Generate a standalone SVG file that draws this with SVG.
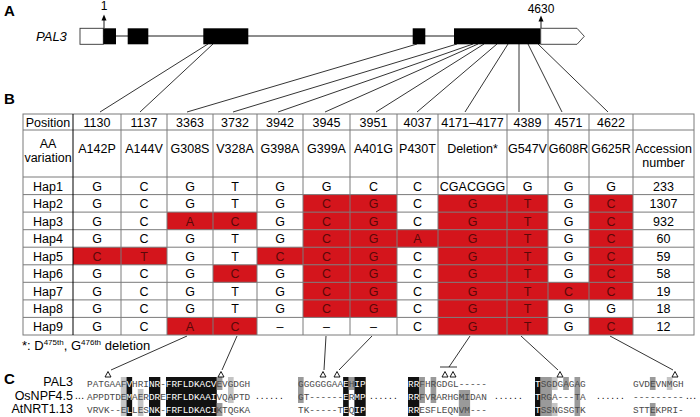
<svg xmlns="http://www.w3.org/2000/svg" width="700" height="417" viewBox="0 0 700 417">
<defs>
<style>
.lbl{font-family:"Liberation Sans",Arial,sans-serif;font-size:15px;font-weight:bold;fill:#000}
.t{font-family:"Liberation Sans",Arial,sans-serif;font-size:12.5px;fill:#000;text-anchor:middle}
.r{font-family:"Liberation Sans",Arial,sans-serif;font-size:12.5px;fill:#5a0808;text-anchor:middle}
.red{fill:#d4151c}
.grid{stroke:#7a7a7a;stroke-width:1;fill:none}
.con line,.con path{stroke:#000;stroke-width:0.8;fill:none}
.aln{font-family:"Liberation Mono","Courier New",monospace;font-size:9.4px;fill:#4a4a4a}
.w{fill:#fff}
.dots{font-family:"Liberation Sans",Arial,sans-serif;font-size:10px;letter-spacing:2px;fill:#000}
.sp{font-family:"Liberation Sans",Arial,sans-serif;font-size:12.5px;fill:#000;text-anchor:end}
.tri{fill:#fff;stroke:#000;stroke-width:0.9}
.bk{fill:#111}
.gy{fill:#9a9a9a}
.lg{fill:#c4c4c4}
</style>
</defs>
<rect width="700" height="417" fill="#fff"/>

<!-- Panel A -->
<text class="lbl" x="4" y="16">A</text>
<g id="gene">
<text x="36" y="41" font-family="Liberation Sans,Arial,sans-serif" font-size="13" font-style="italic">PAL3</text>
<line x1="103" y1="36" x2="454" y2="36" stroke="#000" stroke-width="0.9"/>
<rect x="80" y="28.3" width="23.3" height="16" fill="#fff" stroke="#333" stroke-width="0.9"/>
<rect x="103.3" y="28.3" width="12.7" height="16" fill="#000"/>
<rect x="127.7" y="28.3" width="20.6" height="16" fill="#000"/>
<rect x="203.3" y="28.3" width="45" height="16" fill="#000"/>
<rect x="412.7" y="28.3" width="12.6" height="16" fill="#000"/>
<rect x="454" y="28.3" width="86.7" height="16" fill="#000"/>
<path d="M540.7,28.3 L577,28.3 L584.3,36.3 L577,44.3 L540.7,44.3 Z" fill="#fff" stroke="#333" stroke-width="0.9"/>
<line x1="104" y1="28" x2="104" y2="19" stroke="#000" stroke-width="0.9"/>
<path d="M101.5,20.5 L104,14.5 L106.5,20.5 Z" fill="#000"/>
<line x1="541" y1="28" x2="541" y2="20" stroke="#000" stroke-width="0.9"/>
<path d="M538.5,21.5 L541,15.5 L543.5,21.5 Z" fill="#000"/>
<text x="104" y="10" font-family="Liberation Sans,Arial,sans-serif" font-size="12" text-anchor="middle">1</text>
<text x="541" y="13" font-family="Liberation Sans,Arial,sans-serif" font-size="12" text-anchor="middle">4630</text>
</g>

<!-- Connectors -->
<g id="connectors" class="con">
<line x1="208" y1="44" x2="100" y2="112"/>
<line x1="213" y1="44" x2="140" y2="112"/>
<line x1="417" y1="44" x2="187" y2="112"/>
<line x1="457" y1="44" x2="233" y2="112"/>
<line x1="473" y1="44" x2="278" y2="112"/>
<line x1="478" y1="44" x2="325" y2="112"/>
<line x1="484" y1="44" x2="376" y2="112"/>
<line x1="497" y1="44" x2="417" y2="112"/>
<line x1="508" y1="44" x2="465" y2="112"/>
<line x1="519" y1="44" x2="519" y2="112"/>
<line x1="528" y1="44" x2="562" y2="112"/>
<line x1="538" y1="44" x2="608" y2="112"/>
<line x1="187" y1="336" x2="111" y2="370"/>
<line x1="237" y1="336" x2="222" y2="370"/>
<line x1="326" y1="336" x2="324" y2="370"/>
<line x1="372" y1="336" x2="339" y2="370"/>
<line x1="470" y1="336" x2="449" y2="367"/>
<line x1="440" y1="367" x2="457" y2="367"/>
<line x1="521" y1="336" x2="558" y2="370"/>
<line x1="610" y1="336" x2="673" y2="370"/>
</g>

<!-- Panel B table -->
<text class="lbl" x="4" y="104">B</text>
<g id="table">
<g id="redcells" class="red">
<rect x="303" y="194.6" width="94" height="17.6"/><rect x="438" y="194.6" width="110" height="17.6"/><rect x="589" y="194.6" width="44" height="17.6"/>
<rect x="167" y="212.1" width="90" height="17.6"/><rect x="303" y="212.1" width="94" height="17.6"/><rect x="438" y="212.1" width="110" height="17.6"/><rect x="589" y="212.1" width="44" height="17.6"/>
<rect x="303" y="229.7" width="245" height="17.6"/><rect x="589" y="229.7" width="44" height="17.6"/>
<rect x="73" y="247.2" width="94" height="17.6"/><rect x="257" y="247.2" width="140" height="17.6"/><rect x="438" y="247.2" width="110" height="17.6"/><rect x="589" y="247.2" width="44" height="17.6"/>
<rect x="213" y="264.8" width="44" height="17.6"/><rect x="303" y="264.8" width="94" height="17.6"/><rect x="438" y="264.8" width="110" height="17.6"/><rect x="589" y="264.8" width="44" height="17.6"/>
<rect x="303" y="282.3" width="94" height="17.6"/><rect x="438" y="282.3" width="110" height="17.6"/><rect x="548" y="282.3" width="85" height="17.6"/>
<rect x="303" y="299.9" width="94" height="17.6"/><rect x="438" y="299.9" width="110" height="17.6"/>
<rect x="167" y="317.4" width="90" height="17.6"/><rect x="438" y="317.4" width="110" height="17.6"/><rect x="589" y="317.4" width="44" height="17.6"/>
</g>
<g id="gridlines" class="grid">
<rect x="23" y="114" width="671" height="221"/>
<path d="M23,130H694M23,177H694M23,194.6H694M23,212.1H694M23,229.7H694M23,247.2H694M23,264.8H694M23,282.3H694M23,299.9H694M23,317.4H694"/>
<path d="M121,114V335M167,114V335M213,114V335M257,114V335M303,114V335M350,114V335M397,114V335M438,114V335M507,114V335M548,114V335M589,114V335M633,114V335"/>
</g>
<line x1="73" y1="114" x2="73" y2="335" stroke="#000" stroke-width="1"/>
<g id="header">
<text class="t" x="48" y="127">Position</text>
<text class="t" x="97" y="127">1130</text><text class="t" x="144" y="127">1137</text><text class="t" x="190" y="127">3363</text><text class="t" x="235" y="127">3732</text><text class="t" x="280" y="127">3942</text><text class="t" x="326.5" y="127">3945</text><text class="t" x="373.5" y="127">3951</text><text class="t" x="417.5" y="127">4037</text><text class="t" x="472.5" y="127">4171–4177</text><text class="t" x="527.5" y="127">4389</text><text class="t" x="568.5" y="127">4571</text><text class="t" x="611" y="127">4622</text>
<text class="t" x="48" y="148">AA</text><text class="t" x="48" y="162">variation</text>
<text class="t" x="97" y="153">A142P</text><text class="t" x="144" y="153">A144V</text><text class="t" x="190" y="153">G308S</text><text class="t" x="235" y="153">V328A</text><text class="t" x="280" y="153">G398A</text><text class="t" x="326.5" y="153">G399A</text><text class="t" x="373.5" y="153">A401G</text><text class="t" x="417.5" y="153">P430T</text><text class="t" x="472.5" y="153">Deletion*</text><text class="t" x="527.5" y="153">G547V</text><text class="t" x="568.5" y="153">G608R</text><text class="t" x="611" y="153">G625R</text>
<text class="t" x="663.5" y="153">Accession</text><text class="t" x="663.5" y="167">number</text>
</g>
<g id="hap1"><text class="t" x="48" y="190.5">Hap1</text><text class="t" x="97" y="190.5">G</text><text class="t" x="144" y="190.5">C</text><text class="t" x="190" y="190.5">G</text><text class="t" x="235" y="190.5">T</text><text class="t" x="280" y="190.5">G</text><text class="t" x="326.5" y="190.5">G</text><text class="t" x="373.5" y="190.5">C</text><text class="t" x="417.5" y="190.5">C</text><text class="t" x="472.5" y="190.5">CGACGGG</text><text class="t" x="527.5" y="190.5">G</text><text class="t" x="568.5" y="190.5">G</text><text class="t" x="611" y="190.5">G</text><text class="t" x="663.5" y="190.5">233</text></g>
<g id="hap2"><text class="t" x="48" y="208">Hap2</text><text class="t" x="97" y="208">G</text><text class="t" x="144" y="208">C</text><text class="t" x="190" y="208">G</text><text class="t" x="235" y="208">T</text><text class="t" x="280" y="208">G</text><text class="r" x="326.5" y="208">C</text><text class="r" x="373.5" y="208">G</text><text class="t" x="417.5" y="208">C</text><text class="r" x="472.5" y="208">G</text><text class="r" x="527.5" y="208">T</text><text class="t" x="568.5" y="208">G</text><text class="r" x="611" y="208">C</text><text class="t" x="663.5" y="208">1307</text></g>
<g id="hap3"><text class="t" x="48" y="225.5">Hap3</text><text class="t" x="97" y="225.5">G</text><text class="t" x="144" y="225.5">C</text><text class="r" x="190" y="225.5">A</text><text class="r" x="235" y="225.5">C</text><text class="t" x="280" y="225.5">G</text><text class="r" x="326.5" y="225.5">C</text><text class="r" x="373.5" y="225.5">G</text><text class="t" x="417.5" y="225.5">C</text><text class="r" x="472.5" y="225.5">G</text><text class="r" x="527.5" y="225.5">T</text><text class="t" x="568.5" y="225.5">G</text><text class="r" x="611" y="225.5">C</text><text class="t" x="663.5" y="225.5">932</text></g>
<g id="hap4"><text class="t" x="48" y="243">Hap4</text><text class="t" x="97" y="243">G</text><text class="t" x="144" y="243">C</text><text class="t" x="190" y="243">G</text><text class="t" x="235" y="243">T</text><text class="t" x="280" y="243">G</text><text class="r" x="326.5" y="243">C</text><text class="r" x="373.5" y="243">G</text><text class="r" x="417.5" y="243">A</text><text class="r" x="472.5" y="243">G</text><text class="r" x="527.5" y="243">T</text><text class="t" x="568.5" y="243">G</text><text class="r" x="611" y="243">C</text><text class="t" x="663.5" y="243">60</text></g>
<g id="hap5"><text class="t" x="48" y="260.5">Hap5</text><text class="r" x="97" y="260.5">C</text><text class="r" x="144" y="260.5">T</text><text class="t" x="190" y="260.5">G</text><text class="t" x="235" y="260.5">T</text><text class="r" x="280" y="260.5">C</text><text class="r" x="326.5" y="260.5">C</text><text class="r" x="373.5" y="260.5">G</text><text class="t" x="417.5" y="260.5">C</text><text class="r" x="472.5" y="260.5">G</text><text class="r" x="527.5" y="260.5">T</text><text class="t" x="568.5" y="260.5">G</text><text class="r" x="611" y="260.5">C</text><text class="t" x="663.5" y="260.5">59</text></g>
<g id="hap6"><text class="t" x="48" y="278">Hap6</text><text class="t" x="97" y="278">G</text><text class="t" x="144" y="278">C</text><text class="t" x="190" y="278">G</text><text class="r" x="235" y="278">C</text><text class="t" x="280" y="278">G</text><text class="r" x="326.5" y="278">C</text><text class="r" x="373.5" y="278">G</text><text class="t" x="417.5" y="278">C</text><text class="r" x="472.5" y="278">G</text><text class="r" x="527.5" y="278">T</text><text class="t" x="568.5" y="278">G</text><text class="r" x="611" y="278">C</text><text class="t" x="663.5" y="278">58</text></g>
<g id="hap7"><text class="t" x="48" y="295.5">Hap7</text><text class="t" x="97" y="295.5">G</text><text class="t" x="144" y="295.5">C</text><text class="t" x="190" y="295.5">G</text><text class="t" x="235" y="295.5">T</text><text class="t" x="280" y="295.5">G</text><text class="r" x="326.5" y="295.5">C</text><text class="r" x="373.5" y="295.5">G</text><text class="t" x="417.5" y="295.5">C</text><text class="r" x="472.5" y="295.5">G</text><text class="r" x="527.5" y="295.5">T</text><text class="r" x="568.5" y="295.5">C</text><text class="r" x="611" y="295.5">C</text><text class="t" x="663.5" y="295.5">19</text></g>
<g id="hap8"><text class="t" x="48" y="313">Hap8</text><text class="t" x="97" y="313">G</text><text class="t" x="144" y="313">C</text><text class="t" x="190" y="313">G</text><text class="t" x="235" y="313">T</text><text class="t" x="280" y="313">G</text><text class="r" x="326.5" y="313">C</text><text class="r" x="373.5" y="313">G</text><text class="t" x="417.5" y="313">C</text><text class="r" x="472.5" y="313">G</text><text class="r" x="527.5" y="313">T</text><text class="t" x="568.5" y="313">G</text><text class="t" x="611" y="313">G</text><text class="t" x="663.5" y="313">18</text></g>
<g id="hap9"><text class="t" x="48" y="330.5">Hap9</text><text class="t" x="97" y="330.5">G</text><text class="t" x="144" y="330.5">C</text><text class="r" x="190" y="330.5">A</text><text class="r" x="235" y="330.5">C</text><text class="t" x="280" y="330.5">–</text><text class="t" x="326.5" y="330.5">–</text><text class="t" x="373.5" y="330.5">–</text><text class="t" x="417.5" y="330.5">C</text><text class="r" x="472.5" y="330.5">G</text><text class="r" x="527.5" y="330.5">T</text><text class="t" x="568.5" y="330.5">G</text><text class="r" x="611" y="330.5">C</text><text class="t" x="663.5" y="330.5">12</text></g>
</g>
<text id="footnote" x="22" y="350" font-family="Liberation Sans,Arial,sans-serif" font-size="13">*: D<tspan font-size="8" dy="-5">475th</tspan><tspan dy="5">, G</tspan><tspan font-size="8" dy="-5">476th</tspan><tspan dy="5"> deletion</tspan></text>

<!-- Panel C -->
<text class="lbl" x="4" y="384">C</text>
<g id="alignment">
<text class="sp" x="73" y="386">PAL3</text>
<text class="sp" x="73" y="399.5">OsNPF4.5</text>
<text class="sp" x="73" y="413">AtNRT1.13</text>
<g id="highlights">
<rect class="lg" x="120.8" y="377" width="5.64" height="39"/>
<rect class="bk" x="126.5" y="377" width="5.64" height="39"/>
<rect class="lg" x="137.8" y="389" width="5.64" height="27"/>
<rect class="bk" x="149" y="377" width="11.3" height="39"/>
<rect class="bk" x="166" y="377" width="50.8" height="39"/>
<rect class="gy" x="216.8" y="377" width="5.64" height="13"/>
<rect class="gy" x="216.8" y="403" width="5.64" height="13"/>
<rect class="lg" x="228" y="377" width="5.64" height="26"/>
<rect class="gy" x="298" y="377" width="5.64" height="26"/>
<rect class="bk" x="343.1" y="377" width="5.64" height="39"/>
<rect class="gy" x="348.8" y="377" width="5.64" height="13"/>
<rect class="bk" x="354.4" y="377" width="11.3" height="39"/>
<rect class="bk" x="408" y="377" width="11.3" height="39"/>
<rect class="gy" x="419.3" y="377" width="5.64" height="26"/>
<rect class="gy" x="430.6" y="377" width="5.64" height="26"/>
<rect class="gy" x="458.8" y="390" width="11.3" height="26"/>
<rect class="bk" x="535" y="377" width="5.64" height="39"/>
<rect class="gy" x="540.6" y="377" width="11.3" height="39"/>
<rect class="lg" x="551.9" y="377" width="5.64" height="13"/>
<rect class="lg" x="551.9" y="403" width="5.64" height="13"/>
<rect class="gy" x="563.2" y="377" width="5.64" height="13"/>
<rect class="gy" x="574.5" y="377" width="5.64" height="39"/>
<rect class="gy" x="649.9" y="377" width="5.64" height="13"/>
<rect class="gy" x="649.9" y="403" width="5.64" height="13"/>
<rect class="lg" x="666.8" y="377" width="5.64" height="13"/>
</g>
<text class="aln" x="87" y="387">PATGAA<tspan>F</tspan><tspan class="w">V</tspan>HRI<tspan class="w">NR</tspan>-<tspan class="w">FRFLDKACV</tspan>EVGDGH</text>
<text class="aln" x="87" y="400">APPDTDE<tspan class="w">M</tspan>AER<tspan class="w">DR</tspan>E<tspan class="w">FRFLDKAAI</tspan>VQAPTD</text>
<text class="aln" x="87" y="413">VRVK--E<tspan class="w">L</tspan>LES<tspan class="w">NK</tspan>-<tspan class="w">FRFLDKACI</tspan>KTQGKA</text>
<text class="aln" x="298" y="387">GGGGGGAA<tspan class="w">E</tspan>H<tspan class="w">IP</tspan></text>
<text class="aln" x="298" y="400">GT------<tspan class="w">E</tspan>R<tspan class="w">MP</tspan></text>
<text class="aln" x="298" y="413">TK-----T<tspan class="w">E</tspan>Q<tspan class="w">IP</tspan></text>
<text class="aln" x="408" y="387"><tspan class="w">RR</tspan>FHRGDGL-----</text>
<text class="aln" x="408" y="400"><tspan class="w">RR</tspan>FVRARHGMIDAN</text>
<text class="aln" x="408" y="413"><tspan class="w">RR</tspan>ESFLEQNVM---</text>
<text class="aln" x="535" y="387"><tspan class="w">T</tspan>SGDGAGAG</text>
<text class="aln" x="535" y="400"><tspan class="w">T</tspan>RGA---TA</text>
<text class="aln" x="535" y="413"><tspan class="w">T</tspan>SSNGSGTK</text>
<text class="aln" x="633" y="387">GVDEVNMGH</text>
<text class="aln" x="633" y="400">---------</text>
<text class="aln" x="633" y="413">STTEKPRI-</text>
<text class="dots" x="75" y="399" style="letter-spacing:0.3px">...</text>
<text class="dots" x="256" y="399">......</text>
<text class="dots" x="370" y="399">......</text>
<text class="dots" x="495" y="399">......</text>
<text class="dots" x="597" y="399">......</text>
<text class="dots" x="686" y="399" style="letter-spacing:0.8px">...</text>
<g id="triangles">
<path class="tri" d="M105,377L108,371.5L111,377Z"/>
<path class="tri" d="M218,377L221,371.5L224,377Z"/>
<path class="tri" d="M320,377L323,371.5L326,377Z"/>
<path class="tri" d="M334,377L337,371.5L340,377Z"/>
<path class="tri" d="M442,377L445,371.5L448,377Z"/>
<path class="tri" d="M450,377L453,371.5L456,377Z"/>
<path class="tri" d="M557,377L560,371.5L563,377Z"/>
<path class="tri" d="M672,377L675,371.5L678,377Z"/>
</g>
</g>
</svg>
